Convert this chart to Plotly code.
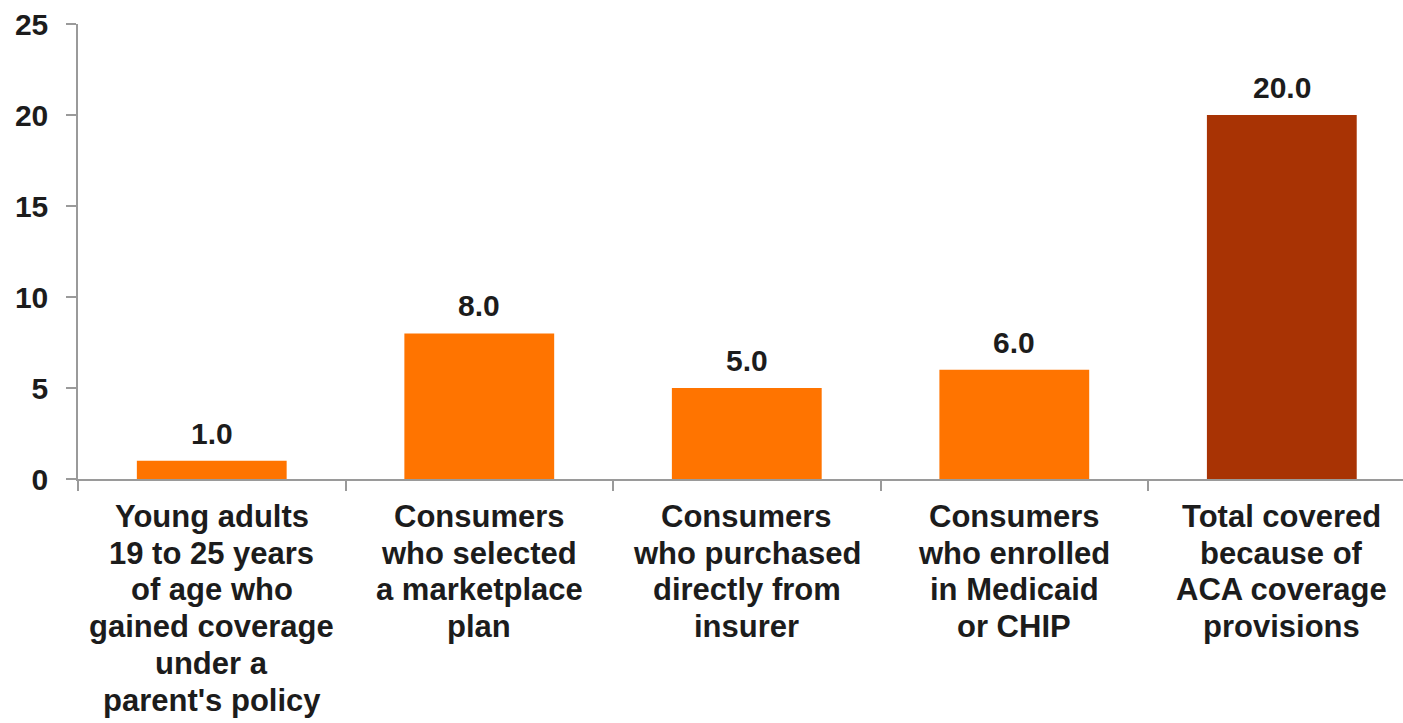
import plotly.graph_objects as go

categories = ["Young adults", "Marketplace", "Direct", "Medicaid", "Total"]
label_lines = [
    ["Young adults", "19 to 25 years", "of age who", "gained coverage", "under a", "parent's policy"],
    ["Consumers", "who selected", "a marketplace", "plan"],
    ["Consumers", "who purchased", "directly from", "insurer"],
    ["Consumers", "who enrolled", "in Medicaid", "or CHIP"],
    ["Total covered", "because of", "ACA coverage", "provisions"],
]
values = [1.0, 8.0, 5.0, 6.0, 20.0]
bar_colors = ["#FF7400", "#FF7400", "#FF7400", "#FF7400", "#A83304"]
y_ticks = [0, 5, 10, 15, 20, 25]

FONT = "Liberation Sans, Arial, sans-serif"
TXT = "#1c1c1c"

fig = go.Figure()
fig.add_trace(go.Bar(
    x=categories, y=values, width=0.56,
    marker=dict(color=bar_colors, line=dict(width=0)),
    hoverinfo="skip",
))

annotations = []
for c, v in zip(categories, values):
    annotations.append(dict(
        x=c, y=v, xref="x", yref="y", text=f"{v:.1f}", showarrow=False,
        yanchor="bottom", yshift=9,
        font=dict(family=FONT, size=30, color=TXT, weight="bold"),
    ))
for c, lines in zip(categories, label_lines):
    for i, line in enumerate(lines):
        annotations.append(dict(
            x=c, y=0, xref="x", yref="paper", text=line, showarrow=False,
            yanchor="middle", yshift=-(37.5 + 36.7 * i),
            font=dict(family=FONT, size=31, color=TXT, weight="bold"),
        ))

fig.update_layout(
    width=1403, height=723,
    margin=dict(l=78, r=0, t=24, b=244),
    paper_bgcolor="white", plot_bgcolor="white",
    showlegend=False,
    annotations=annotations,
    xaxis=dict(
        type="category", range=[-0.5, 4.453],
        showticklabels=False, tickson="boundaries",
        ticks="outside", ticklen=10, tickcolor="#9a9a9a", tickwidth=1.5,
        showline=True, linecolor="#9a9a9a", linewidth=1.5,
        showgrid=False, zeroline=False, fixedrange=True,
    ),
    yaxis=dict(
        range=[0, 25], tickvals=y_ticks, ticktext=[str(t) for t in y_ticks],
        ticks="outside", ticklen=10, tickcolor="#9a9a9a", tickwidth=1.5,
        showline=True, linecolor="#9a9a9a", linewidth=1.5,
        showgrid=False, zeroline=False, ticklabelstandoff=12,
        tickfont=dict(family=FONT, size=30, color=TXT, weight="bold"),
        fixedrange=True,
    ),
)

fig.write_html("out.html")
